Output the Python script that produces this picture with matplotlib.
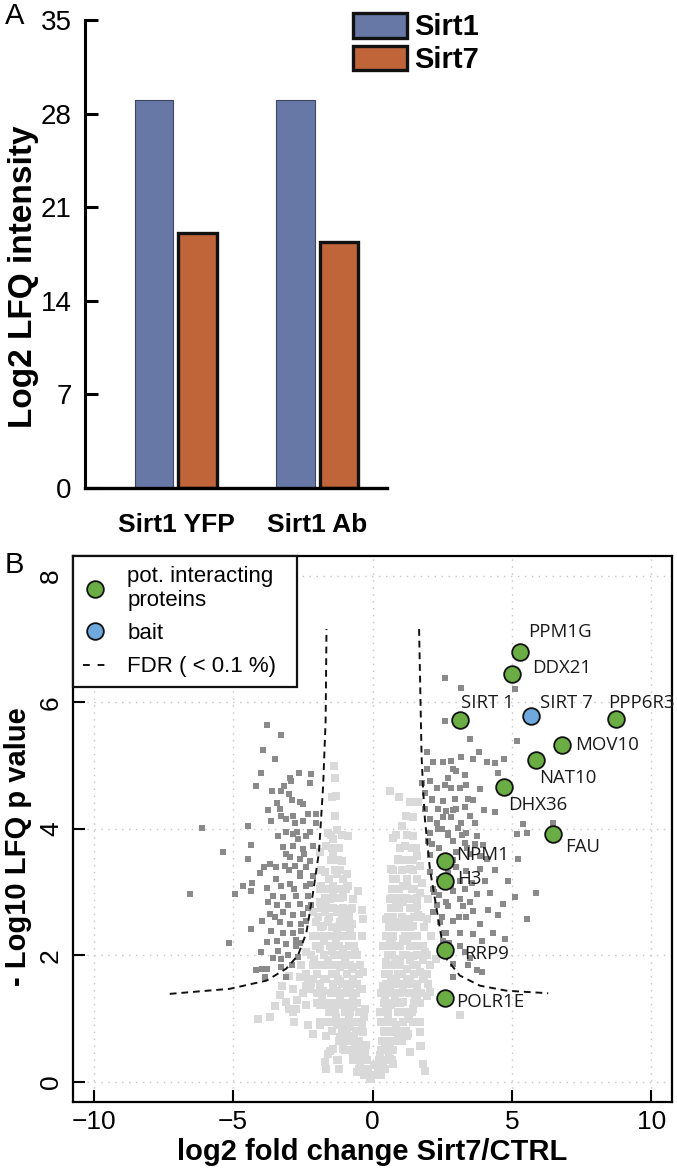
import numpy as np
import matplotlib
matplotlib.use("Agg")
import matplotlib.pyplot as plt
from matplotlib.patches import Patch
from matplotlib.lines import Line2D

plt.rcParams['font.family'] = ['Liberation Sans', 'DejaVu Sans']

# ---- panel A data
groups = ['Sirt1 YFP', 'Sirt1 Ab']
sirt1_vals = [29.0, 29.0]
sirt7_vals = [19.1, 18.4]
a_yticks = [0, 7, 14, 21, 28, 35]

# ---- panel B data
light_x = [-1.39, -1.35, -1.32, -1.59, -1.27, -0.87, -1.41, -1.65, -1.87, -1.41, -1.08, -1.71, -1.29, -0.93,
           -1.83, -1.41, -0.87, -0.36, -1.89, -1.53, -1.05, -0.69, -2.13, -1.71, -1.29, -0.93, -2.01, -1.59,
           -1.17, -0.75, -2.13, -1.71, -1.29, -0.87, -2.37, -1.89, -1.47, -1.05, -0.63, -2.55, -2.13, -1.65,
           -1.17, -0.75, -2.99, -2.61, -2.13, -1.65, -1.17, -0.69, -3.23, -2.85, -2.25, -1.77, -1.29, -0.81,
           -0.39, -3.33, -3.09, -2.73, -2.37, -1.89, -1.41, -0.93, -4.10, -3.68, -2.85, -2.31, -1.89, -1.41,
           -1.00, -0.57, -2.13, -1.65, -1.17, -0.75, -0.33, -1.71, -1.29, -1.05, -0.69, -0.45, -0.22, -0.33,
           -0.10, -1.41, -0.57,
           -1.89, -1.41, -0.93, -0.52, -1.65, -1.17, -0.76, -0.34, -1.77, -1.29, -0.81, -0.39, -2.01, -1.53,
           -1.05, -0.63, -2.13, -1.65, -1.17, -0.69, -0.34, -2.37, -1.89, -1.41, -0.93, -0.46, -1.65, -1.17,
           -0.69, -0.28, -1.89, -1.29, -0.81, -0.39, -1.53, -1.05, -0.63, -0.28, -0.46, -0.16, -0.04, 0.14,
           0.38, -1.71, -1.23,
           0.26, 0.62, 0.98, 0.44, 0.86, 1.28, 1.70, 0.26, 0.68, 1.10, 1.52, 1.94, 0.38, 0.86, 1.34, 1.82,
           0.50, 0.98, 1.46, 1.87, 0.62, 1.10, 1.58, 0.74, 1.22, 1.64, 0.86, 1.34, 1.70, 1.10, 1.28, 1.34,
           0.74,
           0.62, 1.34, 1.46, 0.74, 1.16, 1.58, 0.92, 1.34, 1.70, 0.74, 1.22, 1.76, 0.62, 1.10, 1.58, 1.99,
           0.50, 0.98, 1.46, 1.94, 0.38, 0.86, 1.34, 1.82, 2.29, 0.74, 1.22, 1.70, 0.62, 1.10, 1.58, 2.06,
           0.50, 0.98, 1.46, 1.70, 0.74, 1.22, 1.70, 0.62, 1.82, 3.13, 1.04, 1.46, 0.68, 1.64,
           -1.60, -1.68, -1.21, 1.73, 1.89,
           # denser body of the V
           -0.30, -0.10, 0.10, 0.30, -0.50, -0.20, 0.20, 0.45, -0.70, -0.45, -0.20, 0.25, 0.50, 0.70,
           -1.00, -0.80, -0.55, -0.35, 0.30, 0.50, 0.75, -1.20, -0.95, -0.75, -0.50, 0.35, 0.55, 0.80, 1.05,
           -1.45, -1.10, -0.90, -0.60, -0.40, 0.40, 0.65, 1.00, 1.20,
           -1.70, -1.20, -1.00, -0.70, -0.45, 0.30, 0.50, 0.75, 1.10, 1.45,
           -1.55, -1.35, -1.00, -0.80, -0.50, 0.35, 0.55, 0.90, 1.15, 1.40,
           -2.00, -1.60, -1.40, -1.00, -0.80, -0.55, 0.40, 0.60, 0.85, 1.00, 1.50, 1.70,
           -2.50, -2.00, -1.50, -1.20, -1.00, -0.60, 0.30, 0.50, 0.75, 1.00, 1.30, 1.75,
           -2.20, -1.90, -1.40, -1.10, -0.80, -0.55, 0.50, 0.70, 0.95, 1.15, 1.40, 1.60, 2.00,
           -2.40, -2.00, -1.45, -1.30, -0.90, -0.50, 0.45, 0.60, 0.90, 1.05, 1.50, 1.95,
           -1.95, -1.50, -1.35, -0.95, -0.80, -0.45, 0.50, 0.65, 1.00, 1.45, 1.60, 2.05,
           -2.20, -1.75, -1.30, -1.15, -0.80, -0.55, 0.55, 0.70, 1.10, 1.20, 1.60, 1.95,
           -1.95, -1.40, -1.20, -0.85, -0.65, 0.60, 1.00, 1.55, 1.70,
           -2.00, -1.50, -1.05, -0.75, 0.50, 0.75, 1.15, 1.45, 1.60, 2.10,
           -1.85, -1.45, -1.15, -0.90, 0.60, 0.85, 1.10, 1.35, 1.85,
           -1.95, -1.55, -1.10, -0.85, 0.55, 0.75, 1.05, 1.50, 1.75,
           -1.85, -1.40, -1.05, -0.75, 0.65, 0.95, 1.35, 1.55,
           -1.70, -1.25, -1.15, 0.70, 1.00, 1.20, 1.60,
           -1.60, -1.20, -0.95, 0.70, 0.95, 1.40, 1.50,
           -1.55, -1.05, 0.85, 1.25, 1.60,
           -1.85, -1.35, -1.15, 0.75, 1.05, 1.45,
           -1.50, -1.25, 0.90, 1.20, 1.45,
           -1.45, -1.20, 1.00, 1.40, 1.55,
           -1.50, -1.10, 0.85, 1.25,
           -1.35, 1.20, -1.45, 0.95,
           # in-between rows
           -0.60, -0.35, 0.05, 0.35, 0.60, -0.90, -0.65, -0.25, 0.45, 0.90, -1.30, -0.85, -0.30, 0.55,
           1.30, -1.80, -1.15, -0.70, 0.45, 0.80, 1.60, -2.30, -1.75, -1.25, -0.70, 0.65, 1.25, 1.85,
           -2.10, -1.60, -1.00, 0.80, 1.35, 1.80, -1.75, -1.30, 0.70, 1.25, -1.60, -1.00, 0.85, 1.30,
           -2.70, -3.00, -2.80, -3.50]
light_y = [5.00, 4.81, 4.52, 3.94, 3.98, 3.89, 3.84, 3.73, 3.63, 3.57, 3.49, 3.31, 3.28, 3.28,
           3.10, 3.10, 3.10, 2.71, 2.84, 2.89, 2.92, 2.89, 2.68, 2.68, 2.68, 2.68, 2.52, 2.55,
           2.52, 2.49, 2.31, 2.31, 2.31, 2.31, 2.05, 2.10, 2.07, 2.05, 2.05, 1.84, 1.84, 1.84,
           1.84, 1.81, 1.68, 1.65, 1.63, 1.63, 1.60, 1.60, 1.52, 1.47, 1.47, 1.44, 1.44, 1.42,
           1.47, 1.37, 1.26, 1.15, 1.21, 1.21, 1.18, 1.21, 0.99, 1.02, 1.10, 0.89, 0.94, 0.94,
           0.92, 0.94, 0.76, 0.73, 0.71, 0.73, 0.78, 0.31, 0.34, 0.52, 0.47, 0.31, 0.15, 0.52,
           0.05, 0.52, 0.15,
           3.05, 3.00, 3.10, 3.02, 2.78, 2.73, 2.73, 2.57, 2.47, 2.42, 2.42, 2.31, 2.15, 2.15,
           2.10, 2.05, 1.84, 1.84, 1.81, 1.78, 1.73, 1.52, 1.52, 1.49, 1.47, 1.47, 1.21, 1.21,
           1.18, 1.15, 0.89, 0.89, 0.86, 0.89, 0.49, 0.63, 0.57, 0.47, 0.26, 0.15, 0.05, 0.10,
           0.26, 0.31, 0.34,
           0.42, 0.57, 0.68, 0.78, 0.89, 0.99, 0.78, 1.10, 1.21, 1.26, 1.36, 1.36, 1.52, 1.57, 1.63, 1.68,
           1.89, 1.94, 1.99, 2.05, 2.21, 2.26, 2.31, 2.52, 2.57, 2.63, 2.84, 2.89, 2.99, 3.10, 0.76, 0.47,
           0.28,
           4.60, 4.42, 4.18, 3.86, 3.73, 3.57, 3.52, 3.36, 3.42, 3.21, 3.10, 3.15, 2.89, 2.84, 2.78, 2.89,
           2.57, 2.52, 2.47, 2.57, 2.15, 2.15, 2.15, 2.15, 1.94, 1.84, 1.78, 1.73, 1.52, 1.42, 1.47, 1.42,
           1.21, 1.10, 1.15, 0.94, 0.78, 0.73, 0.57, 0.36, 0.28, 1.05, 4.05, 3.89, 3.36, 4.42,
           0.44, 0.20, 0.20, 0.57, 0.17,
           0.10, 0.10, 0.10, 0.10, 0.20, 0.20, 0.20, 0.20, 0.35, 0.35, 0.35, 0.35, 0.35, 0.35,
           0.50, 0.50, 0.50, 0.50, 0.50, 0.50, 0.50, 0.65, 0.65, 0.65, 0.65, 0.65, 0.65, 0.65, 0.65,
           0.80, 0.80, 0.80, 0.80, 0.80, 0.80, 0.80, 0.80, 0.80,
           0.95, 0.95, 0.95, 0.95, 0.95, 0.95, 0.95, 0.95, 0.95, 0.95,
           1.10, 1.10, 1.10, 1.10, 1.10, 1.10, 1.10, 1.10, 1.10, 1.10,
           1.25, 1.25, 1.25, 1.25, 1.25, 1.25, 1.25, 1.25, 1.25, 1.25, 1.25, 1.25,
           1.40, 1.40, 1.40, 1.40, 1.40, 1.40, 1.40, 1.40, 1.40, 1.40, 1.40, 1.40,
           1.55, 1.55, 1.55, 1.55, 1.55, 1.55, 1.55, 1.55, 1.55, 1.55, 1.55, 1.55, 1.55,
           1.70, 1.70, 1.70, 1.70, 1.70, 1.70, 1.70, 1.70, 1.70, 1.70, 1.70, 1.70,
           1.85, 1.85, 1.85, 1.85, 1.85, 1.85, 1.85, 1.85, 1.85, 1.85, 1.85, 1.85,
           2.00, 2.00, 2.00, 2.00, 2.00, 2.00, 2.00, 2.00, 2.00, 2.00, 2.00, 2.00,
           2.15, 2.15, 2.15, 2.15, 2.15, 2.15, 2.15, 2.15, 2.15,
           2.30, 2.30, 2.30, 2.30, 2.30, 2.30, 2.30, 2.30, 2.30, 2.30,
           2.45, 2.45, 2.45, 2.45, 2.45, 2.45, 2.45, 2.45, 2.45,
           2.60, 2.60, 2.60, 2.60, 2.60, 2.60, 2.60, 2.60, 2.60,
           2.75, 2.75, 2.75, 2.75, 2.75, 2.75, 2.75, 2.75,
           2.90, 2.90, 2.90, 2.90, 2.90, 2.90, 2.90,
           3.05, 3.05, 3.05, 3.05, 3.05, 3.05, 3.05,
           3.20, 3.20, 3.20, 3.20, 3.20,
           3.35, 3.35, 3.35, 3.35, 3.35, 3.35,
           3.50, 3.50, 3.50, 3.50, 3.50,
           3.70, 3.70, 3.70, 3.70, 3.70,
           3.90, 3.90, 3.90, 3.90,
           4.20, 4.20, 4.50, 4.50,
           0.42, 0.42, 0.27, 0.27, 0.42, 0.72, 0.72, 0.58, 0.58, 0.72, 1.02, 1.02, 1.02, 1.02,
           1.02, 1.32, 1.32, 1.32, 1.32, 1.32, 1.32, 1.62, 1.62, 1.62, 1.62, 1.62, 1.62, 1.62,
           1.92, 1.92, 1.92, 1.92, 1.92, 1.92, 2.22, 2.22, 2.22, 2.22, 2.52, 2.52, 2.52, 2.52,
           1.30, 1.15, 0.95, 1.20]

dark_x = [-3.77, -3.27, -3.92, -3.50, -4.01, -2.64, -2.19, -2.91, -2.25, -3.18, -4.16, -3.27, -2.99, -3.42,
          -2.61, -3.74, -3.33, -2.85, -2.31, -2.03, -3.65, -3.27, -2.79, -2.51, -2.01, -4.46, -6.10, -3.39,
          -2.85, -2.67, -2.37, -4.34, -3.21, -2.85, -2.51, -2.13, -5.36, -4.46, -2.97, -2.61, -2.25, -3.68,
          -3.45, -3.15, -2.79, -2.37, -4.04, -2.61, -2.13, -4.64, -4.31, -3.80, -3.27, -2.97, -2.25, -4.94,
          -4.34, -3.56, -3.21, -2.73, -2.33, -6.53, -3.44, -3.03, -2.61, -2.19, -3.68, -3.21, -2.85, -2.49,
          -3.98, -3.33, -2.97, -2.37, -4.34, -3.63, -2.85, -2.55, -5.14, -3.80, -3.44, -3.09, -2.73, -4.01,
          -3.39, -3.03, -2.67, -3.27, -4.19, -3.98, -3.78, -3.27, -3.86,
          -2.40, -2.60, -2.80, -3.00, -2.45, -2.70, -3.10, -2.50, -2.90, -3.10, -2.30, -2.55, -3.20, -3.50,
          -2.75, -2.60, -3.10, -3.45, -3.90, -3.75, -3.55, -2.90, -3.10, -2.25, -2.95, -3.60,
          2.59, 3.19, 5.11, 2.59, 3.49, 5.17, 1.97, 2.18, 2.53, 2.83, 3.19, 3.61, 3.83, 4.09, 4.39, 4.71,
          4.51, 3.01, 2.71, 2.06, 2.30, 2.83, 3.13, 3.37, 3.85, 1.88, 2.12, 2.53, 2.95, 3.43, 1.88, 2.35,
          2.65, 3.01, 3.31, 3.49, 4.39, 2.06, 2.53, 2.83, 3.19, 3.67, 5.41, 5.53, 5.17, 6.48, 2.06, 2.35,
          2.71, 3.07, 3.37, 3.73, 2.12, 2.89, 3.31, 3.67, 3.01, 3.49, 3.85, 4.09, 5.23, 2.06, 3.01, 3.37,
          3.85, 2.06, 3.13, 3.55, 4.03, 4.87, 2.18, 2.89, 3.73, 4.21, 5.11, 5.86, 2.65, 3.25, 4.69, 5.53,
          2.71, 3.13, 3.49, 4.15, 4.51, 2.18, 2.41, 2.89, 3.37, 3.85, 2.65, 3.13, 3.61, 4.33, 4.75, 2.53,
          3.91, 2.89, 3.43, 3.73, 3.91, 3.13, 1.94, 1.76,
          2.20, 2.40, 2.30, 2.50, 2.55, 2.70, 2.90, 2.40, 2.70, 2.30, 2.50, 2.90, 3.20, 3.40, 2.80, 3.10,
          3.30, 2.40, 2.00, 2.15, 2.60, 2.90, 3.30, 3.60, 4.00, 3.95, 4.40, 3.60, 2.70, 2.75, 3.30, 3.50,
          2.90]
dark_y = [5.65, 5.49, 5.24, 5.10, 4.88, 4.88, 4.86, 4.76, 4.73, 4.68, 4.67, 4.60, 4.55, 4.41,
          4.42, 4.30, 4.32, 4.21, 4.23, 4.23, 4.13, 4.21, 4.10, 4.13, 4.09, 4.05, 4.01, 3.89,
          3.92, 3.84, 3.89, 3.75, 3.71, 3.73, 3.68, 3.73, 3.63, 3.52, 3.55, 3.52, 3.49, 3.44,
          3.39, 3.42, 3.42, 3.39, 3.30, 3.26, 3.26, 3.10, 3.15, 3.07, 3.10, 3.13, 3.13, 2.97,
          3.02, 2.94, 2.92, 2.94, 2.94, 2.97, 2.80, 2.79, 2.81, 2.79, 2.65, 2.68, 2.63, 2.65,
          2.55, 2.52, 2.49, 2.55, 2.42, 2.39, 2.36, 2.39, 2.19, 2.21, 2.22, 2.18, 2.15, 2.05,
          2.07, 2.00, 1.97, 1.94, 1.76, 1.78, 1.78, 1.81, 1.65,
          3.10, 3.30, 3.05, 3.35, 3.60, 3.95, 3.95, 4.40, 4.45, 4.15, 2.75, 2.50, 2.35, 2.60,
          2.25, 2.20, 3.60, 3.20, 3.40, 2.85, 1.95, 1.85, 1.65, 3.95, 4.80, 4.60,
          6.39, 6.23, 6.21, 5.71, 5.42, 5.39, 5.22, 5.05, 5.06, 5.07, 5.14, 5.10, 5.21, 5.06, 5.04, 5.11,
          4.88, 4.92, 4.81, 4.76, 4.65, 4.65, 4.65, 4.69, 4.63, 4.56, 4.47, 4.44, 4.47, 4.47, 4.32, 4.32,
          4.28, 4.31, 4.35, 4.21, 4.26, 4.15, 4.18, 4.18, 4.10, 4.10, 4.07, 3.94, 3.92, 4.10, 3.94, 3.99,
          3.94, 4.02, 3.94, 3.89, 3.76, 3.81, 3.78, 3.76, 3.63, 3.60, 3.57, 3.52, 3.52, 3.58, 3.39, 3.34,
          3.36, 3.31, 3.18, 3.15, 3.18, 3.18, 3.05, 3.02, 2.97, 2.99, 2.92, 2.99, 2.84, 2.78, 2.81, 2.57,
          2.78, 2.89, 2.84, 2.71, 2.63, 2.68, 2.52, 2.55, 2.60, 2.49, 2.36, 2.36, 2.34, 2.36, 2.26, 2.23,
          2.22, 1.86, 1.84, 1.76, 1.73, 2.15, 4.94, 4.73,
          3.00, 3.20, 2.80, 2.60, 2.35, 3.30, 3.50, 3.70, 3.90, 4.10, 4.00, 4.30, 3.90, 3.70, 3.10, 2.60,
          3.05, 2.95, 3.80, 4.45, 4.70, 4.95, 4.85, 4.45, 4.30, 3.75, 3.35, 2.70, 2.05, 2.20, 2.05, 1.95,
          1.65]

hit_names = ['PPM1G', 'DDX21', 'SIRT 1', 'PPP6R3', 'MOV10', 'NAT10', 'DHX36', 'FAU',
             'NPM1', 'H3', 'RRP9', 'POLR1E']
hit_x = [5.29, 5.01, 3.13, 8.73, 6.78, 5.86, 4.72, 6.48, 2.59, 2.59, 2.59, 2.59]
hit_y = [6.79, 6.45, 5.72, 5.73, 5.32, 5.09, 4.66, 3.92, 3.49, 3.17, 2.09, 1.32]
bait_name = 'SIRT 7'
bait_x = [5.70]
bait_y = [5.79]

fdr_left_x = [-7.27, -5.12, -3.80, -3.09, -2.67, -2.37, -2.13, -1.92, -1.77, -1.68, -1.65]
fdr_left_y = [1.39, 1.47, 1.60, 1.79, 2.00, 2.36, 3.00, 3.63, 4.68, 5.73, 7.16]
fdr_right_x = [1.67, 1.76, 1.82, 1.88, 2.06, 2.30, 2.48, 2.66, 3.13, 3.85, 4.81, 6.30]
fdr_right_y = [7.16, 5.15, 4.58, 4.15, 3.36, 2.73, 2.26, 1.94, 1.68, 1.52, 1.44, 1.40]

# label offsets (points) for the highlighted proteins
hit_offsets = [(6, 15), (14, 4), (1, 12.5), (-5.5, 12), (10, 0), (2.4, -13), (2.9, -12.7),
               (8.4, -9.6), (8.4, 4.5), (8.9, 1.7), (13.7, -3.1), (8.4, -2.9)]
bait_offset = (6, 9)

W, H = 677, 1172
fig = plt.figure(figsize=(W / 100, H / 100), dpi=100)

# ================= panel A =================
axA = fig.add_axes([85 / W, 1 - 488 / H, 302 / W, 468 / H])
xpos = np.arange(len(groups))
bw = 0.27
blue = '#6878a6'
orange = '#c0653a'
axA.bar(xpos - 0.155, sirt1_vals, bw, color=blue, edgecolor='#3d4660', linewidth=0.8, zorder=2)
axA.bar(xpos + 0.152, sirt7_vals, bw, color=orange, edgecolor='#111111', linewidth=2.4, zorder=2)
axA.set_xlim(-0.643, 1.491)
axA.set_ylim(0, 35)
axA.set_yticks(a_yticks)
axA.set_yticklabels([str(v) for v in a_yticks], fontsize=20)
axA.set_xticks(xpos)
axA.set_xticklabels(groups, fontsize=19, fontweight='bold')
axA.tick_params(axis='y', direction='in', length=9, width=2.2, pad=9.5)
axA.tick_params(axis='x', length=0, pad=18)
for s in ['top', 'right']:
    axA.spines[s].set_visible(False)
axA.spines['left'].set_linewidth(2.2)
axA.spines['bottom'].set_linewidth(2.4)
axA.set_ylabel('Log2 LFQ intensity', fontsize=24, fontweight='bold')
axA.yaxis.set_label_coords(-0.152, 0.451)

legA = axA.legend(handles=[Patch(facecolor=blue, edgecolor='#111111', linewidth=2.4),
                           Patch(facecolor=orange, edgecolor='#111111', linewidth=2.4)],
                  labels=['Sirt1', 'Sirt7'], loc='upper left',
                  bbox_to_anchor=(353 / W, 1 - 13 / H), bbox_transform=fig.transFigure,
                  prop={'size': 21, 'weight': 'bold'}, frameon=False,
                  handlelength=1.85, handleheight=0.92, handletextpad=0.25,
                  labelspacing=0.15, borderpad=0, borderaxespad=0)

fig.text(5 / W, 1 - 16 / H, 'A', fontsize=21, va='center', ha='left')

# ================= panel B =================
axB = fig.add_axes([72.7 / W, 1 - 1102 / H, 599.6 / W, 546.3 / H])
axB.set_xlim(-10.75, 10.75)
axB.set_ylim(-0.32, 8.32)
for gx in [-10, -5, 0, 5, 10]:
    axB.axvline(gx, color='#c4c4c4', lw=1.0, ls=(0, (1, 4)), zorder=0)
for gy in [0, 2, 4, 6, 8]:
    axB.axhline(gy, color='#c4c4c4', lw=1.0, ls=(0, (1, 4)), zorder=0)

axB.plot(light_x, light_y, 's', ms=5.4, mew=0, color='#d9d9d9', zorder=1)
axB.plot(dark_x, dark_y, 's', ms=5.0, mew=0, color='#8a8a8a', zorder=2)
axB.plot(fdr_left_x, fdr_left_y, color='#111111', lw=1.4, ls=(0, (3.5, 2.5)), zorder=3)
axB.plot(fdr_right_x, fdr_right_y, color='#111111', lw=1.4, ls=(0, (3.5, 2.5)), zorder=3)

green = '#6aad45'
lblue = '#6fa8dc'
axB.plot(hit_x, hit_y, 'o', ms=12, mfc=green, mec='#111111', mew=1.3, zorder=4)
axB.plot(bait_x, bait_y, 'o', ms=12, mfc=lblue, mec='#111111', mew=1.3, zorder=4)

lab_font = dict(family=['Open Sans', 'DejaVu Sans'], fontsize=13.4, color='#1a1a1a')
for name, x, y, off in zip(hit_names, hit_x, hit_y, hit_offsets):
    axB.annotate(name, (x, y), xytext=off, textcoords='offset points',
                 ha='left', va='center', zorder=5, **lab_font)
axB.annotate(bait_name, (bait_x[0], bait_y[0]), xytext=bait_offset, textcoords='offset points',
             ha='left', va='center', zorder=5, **lab_font)

axB.set_xticks([-10, -5, 0, 5, 10])
axB.set_yticks([0, 2, 4, 6, 8])
axB.tick_params(axis='both', direction='in', length=8.5, width=1.5, labelsize=19)
axB.tick_params(axis='x', pad=6)
axB.tick_params(axis='y', pad=7)
for lab in axB.get_yticklabels():
    lab.set_rotation(90)
    lab.set_va('center')
for s in axB.spines.values():
    s.set_linewidth(1.6)
axB.set_xlabel('log2 fold change Sirt7/CTRL', fontsize=21, fontweight='bold')
axB.xaxis.set_label_coords(0.5, -0.065)
axB.set_ylabel('- Log10 LFQ p value', fontsize=21, fontweight='bold')
axB.yaxis.set_label_coords(-0.068, 0.468)

handles = [Line2D([], [], ls='none', marker='o', ms=12, mfc=green, mec='#111111', mew=1.3),
           Line2D([], [], ls='none', marker='o', ms=12, mfc=lblue, mec='#111111', mew=1.3),
           Line2D([], [], color='#111111', lw=1.4, ls=(0, (3.5, 4)))]
legB = axB.legend(handles, ['pot. interacting\nproteins', 'bait', 'FDR ( < 0.1 %)'],
                  loc='upper left', bbox_to_anchor=(0, 0, 224 / 599.6, 1), mode='expand',
                  fontsize=16, frameon=True, fancybox=False, edgecolor='#111111',
                  handlelength=1.1, handletextpad=0.9, labelspacing=0.55,
                  borderpad=0.45, borderaxespad=0)
legB.get_frame().set_linewidth(1.6)
legB.get_frame().set_alpha(1)
legB.set_zorder(6)

fig.text(5 / W, 1 - 565 / H, 'B', fontsize=21, va='center', ha='left')

fig.savefig('out.png', dpi=100)
